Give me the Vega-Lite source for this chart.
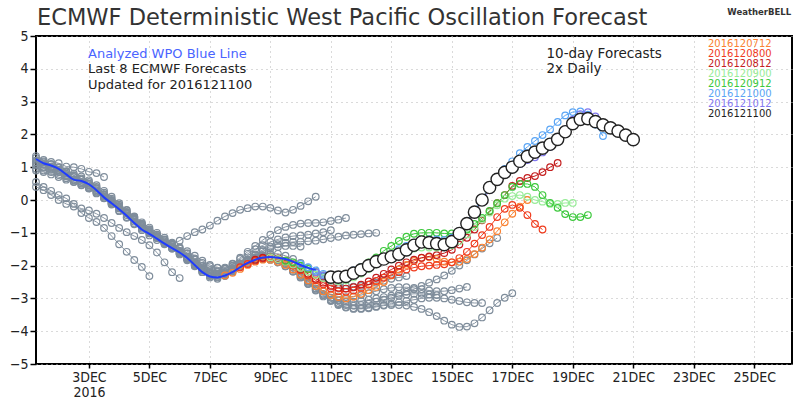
{
"$schema": "https://vega.github.io/schema/vega-lite/v6.json",
"width": 756, "height": 328,
"autosize": {"type": "none"},
"padding": {"left": 36, "top": 36, "right": 8, "bottom": 36},
"background": "white",
"config": {
  "view": {"stroke": "#000000", "strokeWidth": 2},
  "axis": {"domain": false, "grid": true, "gridColor": "#b4b4b4", "gridDash": [1, 4], "gridWidth": 1, "tickColor": "#000000", "tickWidth": 1.5, "labelFont": "DejaVu Sans Condensed", "labelFontSize": 14, "labelColor": "#222222", "labelFlush": false, "labelOverlap": false, "labelBound": false, "title": null}
},
"data": {"values": [
{"s":"x1","d":1.25,"v":1.34},{"s":"x1","d":1.5,"v":1.22},{"s":"x1","d":1.75,"v":1.16},{"s":"x1","d":2,"v":1.12},{"s":"x1","d":2.25,"v":1.02},{"s":"x1","d":2.5,"v":1.0},{"s":"x1","d":2.75,"v":0.95},{"s":"x1","d":3,"v":0.86},{"s":"x1","d":3.25,"v":0.82},{"s":"x1","d":3.5,"v":0.7},
{"s":"x2","d":1.25,"v":0.95},{"s":"x2","d":1.5,"v":0.9},{"s":"x2","d":1.75,"v":0.85},{"s":"x2","d":2,"v":0.76},{"s":"x2","d":2.25,"v":0.66},{"s":"x2","d":2.5,"v":0.56},{"s":"x2","d":2.75,"v":0.46},{"s":"x2","d":3,"v":0.36},{"s":"x2","d":3.25,"v":0.22},{"s":"x2","d":3.5,"v":0.06},{"s":"x2","d":3.75,"v":-0.1},{"s":"x2","d":4,"v":-0.25},{"s":"x2","d":4.25,"v":-0.4},{"s":"x2","d":4.5,"v":-0.52},
{"s":"x3","d":1.25,"v":0.55},{"s":"x3","d":1.5,"v":0.4},{"s":"x3","d":1.75,"v":0.28},{"s":"x3","d":2,"v":0.15},{"s":"x3","d":2.25,"v":0.05},{"s":"x3","d":2.5,"v":-0.12},{"s":"x3","d":2.75,"v":-0.4},{"s":"x3","d":3,"v":-0.55},{"s":"x3","d":3.25,"v":-0.67},{"s":"x3","d":3.5,"v":-0.85},{"s":"x3","d":3.75,"v":-1.1},{"s":"x3","d":4,"v":-1.35},{"s":"x3","d":4.25,"v":-1.58},{"s":"x3","d":4.5,"v":-1.83},{"s":"x3","d":4.75,"v":-2.04},{"s":"x3","d":5,"v":-2.32},
{"s":"x4","d":1.25,"v":0.4},{"s":"x4","d":1.5,"v":0.3},{"s":"x4","d":1.75,"v":0.15},{"s":"x4","d":2,"v":0.0},{"s":"x4","d":2.25,"v":-0.12},{"s":"x4","d":2.5,"v":-0.2},{"s":"x4","d":2.75,"v":-0.26},{"s":"x4","d":3,"v":-0.32},{"s":"x4","d":3.25,"v":-0.42},{"s":"x4","d":3.5,"v":-0.55},{"s":"x4","d":3.75,"v":-0.7},{"s":"x4","d":4,"v":-0.85},{"s":"x4","d":4.25,"v":-0.98},{"s":"x4","d":4.5,"v":-1.1},{"s":"x4","d":4.75,"v":-1.22},{"s":"x4","d":5,"v":-1.38},{"s":"x4","d":5.25,"v":-1.6},{"s":"x4","d":5.5,"v":-1.9},{"s":"x4","d":5.75,"v":-2.2},{"s":"x4","d":6,"v":-2.38},
{"s":"x5","d":1.25,"v":0.9},{"s":"x5","d":1.5,"v":0.85},{"s":"x5","d":1.75,"v":0.78},{"s":"x5","d":2,"v":0.7},{"s":"x5","d":2.25,"v":0.62},{"s":"x5","d":2.5,"v":0.55},{"s":"x5","d":2.75,"v":0.45},{"s":"x5","d":3,"v":0.35},{"s":"x5","d":3.25,"v":0.2},{"s":"x5","d":3.5,"v":0.05},{"s":"x5","d":3.75,"v":-0.12},{"s":"x5","d":4,"v":-0.32},{"s":"x5","d":4.25,"v":-0.52},{"s":"x5","d":4.5,"v":-0.72},{"s":"x5","d":4.75,"v":-0.88},{"s":"x5","d":5,"v":-1.02},{"s":"x5","d":5.25,"v":-1.16},{"s":"x5","d":5.5,"v":-1.3},{"s":"x5","d":5.75,"v":-1.45},{"s":"x5","d":6,"v":-1.6},{"s":"x5","d":6.25,"v":-1.76},{"s":"x5","d":6.5,"v":-1.92},{"s":"x5","d":6.75,"v":-2.06},{"s":"x5","d":7,"v":-2.2},
{"s":"x6","d":1.25,"v":1.2},{"s":"x6","d":1.5,"v":1.1},{"s":"x6","d":1.75,"v":1.0},{"s":"x6","d":2,"v":0.92},{"s":"x6","d":2.25,"v":0.86},{"s":"x6","d":2.5,"v":0.8},{"s":"x6","d":2.75,"v":0.72},{"s":"x6","d":3,"v":0.6},{"s":"x6","d":3.25,"v":0.45},{"s":"x6","d":3.5,"v":0.28},{"s":"x6","d":3.75,"v":0.1},{"s":"x6","d":4,"v":-0.1},{"s":"x6","d":4.25,"v":-0.3},{"s":"x6","d":4.5,"v":-0.5},{"s":"x6","d":4.75,"v":-0.68},{"s":"x6","d":5,"v":-0.84},{"s":"x6","d":5.25,"v":-1.0},{"s":"x6","d":5.5,"v":-1.15},{"s":"x6","d":5.75,"v":-1.3},{"s":"x6","d":6,"v":-1.46},{"s":"x6","d":6.25,"v":-1.62},{"s":"x6","d":6.5,"v":-1.78},{"s":"x6","d":6.75,"v":-1.92},{"s":"x6","d":7,"v":-2.02},{"s":"x6","d":7.25,"v":-2.07},{"s":"x6","d":7.5,"v":-2.06},{"s":"x6","d":7.75,"v":-2.0},{"s":"x6","d":8,"v":-1.94},
{"s":"x7","d":1.25,"v":1.05},{"s":"x7","d":1.5,"v":0.98},{"s":"x7","d":1.75,"v":0.92},{"s":"x7","d":2,"v":0.85},{"s":"x7","d":2.25,"v":0.72},{"s":"x7","d":2.5,"v":0.62},{"s":"x7","d":2.75,"v":0.55},{"s":"x7","d":3,"v":0.45},{"s":"x7","d":3.25,"v":0.3},{"s":"x7","d":3.5,"v":0.12},{"s":"x7","d":3.75,"v":-0.05},{"s":"x7","d":4,"v":-0.22},{"s":"x7","d":4.25,"v":-0.4},{"s":"x7","d":4.5,"v":-0.6},{"s":"x7","d":4.75,"v":-0.8},{"s":"x7","d":5,"v":-0.96},{"s":"x7","d":5.25,"v":-1.1},{"s":"x7","d":5.5,"v":-1.22},{"s":"x7","d":5.75,"v":-1.33},{"s":"x7","d":6,"v":-1.44},{"s":"x7","d":6.25,"v":-1.56},{"s":"x7","d":6.5,"v":-1.7},{"s":"x7","d":6.75,"v":-1.85},{"s":"x7","d":7,"v":-1.98},{"s":"x7","d":7.25,"v":-2.06},{"s":"x7","d":7.5,"v":-2.08},{"s":"x7","d":7.75,"v":-2.02},{"s":"x7","d":8,"v":-1.93},{"s":"x7","d":8.25,"v":-1.84},{"s":"x7","d":8.5,"v":-1.76},{"s":"x7","d":8.75,"v":-1.7},{"s":"x7","d":9,"v":-1.66},
{"s":"x8","d":1.25,"v":1.15},{"s":"x8","d":1.5,"v":1.08},{"s":"x8","d":1.75,"v":1.02},{"s":"x8","d":2,"v":0.9},{"s":"x8","d":2.25,"v":0.8},{"s":"x8","d":2.5,"v":0.7},{"s":"x8","d":2.75,"v":0.62},{"s":"x8","d":3,"v":0.5},{"s":"x8","d":3.25,"v":0.35},{"s":"x8","d":3.5,"v":0.16},{"s":"x8","d":3.75,"v":-0.02},{"s":"x8","d":4,"v":-0.2},{"s":"x8","d":4.25,"v":-0.38},{"s":"x8","d":4.5,"v":-0.56},{"s":"x8","d":4.75,"v":-0.74},{"s":"x8","d":5,"v":-0.9},{"s":"x8","d":5.25,"v":-1.06},{"s":"x8","d":5.5,"v":-1.22},{"s":"x8","d":5.75,"v":-1.38},{"s":"x8","d":6,"v":-1.55},{"s":"x8","d":6.25,"v":-1.72},{"s":"x8","d":6.5,"v":-1.9},{"s":"x8","d":6.75,"v":-2.08},{"s":"x8","d":7,"v":-2.22},{"s":"x8","d":7.25,"v":-2.28},{"s":"x8","d":7.5,"v":-2.24},{"s":"x8","d":7.75,"v":-2.12},{"s":"x8","d":8,"v":-1.97},{"s":"x8","d":8.25,"v":-1.82},{"s":"x8","d":8.5,"v":-1.68},{"s":"x8","d":8.75,"v":-1.56},{"s":"x8","d":9,"v":-1.48},{"s":"x8","d":9.25,"v":-1.43},{"s":"x8","d":9.5,"v":-1.4},{"s":"x8","d":9.75,"v":-1.4},{"s":"x8","d":10,"v":-1.42},
{"s":"x9","d":1.25,"v":1.1},{"s":"x9","d":1.5,"v":1.0},{"s":"x9","d":1.75,"v":0.95},{"s":"x9","d":2,"v":0.86},{"s":"x9","d":2.25,"v":0.75},{"s":"x9","d":2.5,"v":0.62},{"s":"x9","d":2.75,"v":0.5},{"s":"x9","d":3,"v":0.4},{"s":"x9","d":3.25,"v":0.25},{"s":"x9","d":3.5,"v":0.06},{"s":"x9","d":3.75,"v":-0.14},{"s":"x9","d":4,"v":-0.34},{"s":"x9","d":4.25,"v":-0.54},{"s":"x9","d":4.5,"v":-0.74},{"s":"x9","d":4.75,"v":-0.92},{"s":"x9","d":5,"v":-1.08},{"s":"x9","d":5.25,"v":-1.22},{"s":"x9","d":5.5,"v":-1.35},{"s":"x9","d":5.75,"v":-1.36},{"s":"x9","d":6,"v":-1.24},{"s":"x9","d":6.25,"v":-1.1},{"s":"x9","d":6.5,"v":-0.98},{"s":"x9","d":6.75,"v":-0.9},{"s":"x9","d":7,"v":-0.78},{"s":"x9","d":7.25,"v":-0.63},{"s":"x9","d":7.5,"v":-0.5},{"s":"x9","d":7.75,"v":-0.4},{"s":"x9","d":8,"v":-0.3},{"s":"x9","d":8.25,"v":-0.25},{"s":"x9","d":8.5,"v":-0.2},{"s":"x9","d":8.75,"v":-0.2},{"s":"x9","d":9,"v":-0.24},{"s":"x9","d":9.25,"v":-0.32},{"s":"x9","d":9.5,"v":-0.38},{"s":"x9","d":9.75,"v":-0.3},{"s":"x9","d":10,"v":-0.18},{"s":"x9","d":10.25,"v":-0.04},{"s":"x9","d":10.5,"v":0.1},
{"s":"x10","d":1.25,"v":1.28},{"s":"x10","d":1.5,"v":1.18},{"s":"x10","d":1.75,"v":1.1},{"s":"x10","d":2,"v":1.0},{"s":"x10","d":2.25,"v":0.88},{"s":"x10","d":2.5,"v":0.76},{"s":"x10","d":2.75,"v":0.66},{"s":"x10","d":3,"v":0.55},{"s":"x10","d":3.25,"v":0.4},{"s":"x10","d":3.5,"v":0.22},{"s":"x10","d":3.75,"v":0.04},{"s":"x10","d":4,"v":-0.14},{"s":"x10","d":4.25,"v":-0.32},{"s":"x10","d":4.5,"v":-0.52},{"s":"x10","d":4.75,"v":-0.72},{"s":"x10","d":5,"v":-0.9},{"s":"x10","d":5.25,"v":-1.06},{"s":"x10","d":5.5,"v":-1.2},{"s":"x10","d":5.75,"v":-1.34},{"s":"x10","d":6,"v":-1.48},{"s":"x10","d":6.25,"v":-1.64},{"s":"x10","d":6.5,"v":-1.82},{"s":"x10","d":6.75,"v":-2.0},{"s":"x10","d":7,"v":-2.14},{"s":"x10","d":7.25,"v":-2.18},{"s":"x10","d":7.5,"v":-2.1},{"s":"x10","d":7.75,"v":-1.96},{"s":"x10","d":8,"v":-1.8},{"s":"x10","d":8.25,"v":-1.64},{"s":"x10","d":8.5,"v":-1.5},{"s":"x10","d":8.75,"v":-1.38},{"s":"x10","d":9,"v":-1.28},{"s":"x10","d":9.25,"v":-1.2},{"s":"x10","d":9.5,"v":-1.14},{"s":"x10","d":9.75,"v":-1.1},{"s":"x10","d":10,"v":-1.08},{"s":"x10","d":10.25,"v":-1.06},{"s":"x10","d":10.5,"v":-1.02},{"s":"x10","d":10.75,"v":-0.98},{"s":"x10","d":11,"v":-0.92},
{"s":"x11","d":1.5,"v":1.15},{"s":"x11","d":1.75,"v":1.08},{"s":"x11","d":2,"v":0.98},{"s":"x11","d":2.25,"v":0.86},{"s":"x11","d":2.5,"v":0.74},{"s":"x11","d":2.75,"v":0.62},{"s":"x11","d":3,"v":0.5},{"s":"x11","d":3.25,"v":0.36},{"s":"x11","d":3.5,"v":0.18},{"s":"x11","d":3.75,"v":0.0},{"s":"x11","d":4,"v":-0.18},{"s":"x11","d":4.25,"v":-0.36},{"s":"x11","d":4.5,"v":-0.56},{"s":"x11","d":4.75,"v":-0.76},{"s":"x11","d":5,"v":-0.94},{"s":"x11","d":5.25,"v":-1.1},{"s":"x11","d":5.5,"v":-1.26},{"s":"x11","d":5.75,"v":-1.42},{"s":"x11","d":6,"v":-1.58},{"s":"x11","d":6.25,"v":-1.76},{"s":"x11","d":6.5,"v":-1.94},{"s":"x11","d":6.75,"v":-2.1},{"s":"x11","d":7,"v":-2.2},{"s":"x11","d":7.25,"v":-2.2},{"s":"x11","d":7.5,"v":-2.1},{"s":"x11","d":7.75,"v":-1.94},{"s":"x11","d":8,"v":-1.76},{"s":"x11","d":8.25,"v":-1.58},{"s":"x11","d":8.5,"v":-1.4},{"s":"x11","d":8.75,"v":-1.22},{"s":"x11","d":9,"v":-1.06},{"s":"x11","d":9.25,"v":-0.92},{"s":"x11","d":9.5,"v":-0.82},{"s":"x11","d":9.75,"v":-0.76},{"s":"x11","d":10,"v":-0.72},{"s":"x11","d":10.25,"v":-0.7},{"s":"x11","d":10.5,"v":-0.7},{"s":"x11","d":10.75,"v":-0.68},{"s":"x11","d":11,"v":-0.64},{"s":"x11","d":11.25,"v":-0.6},{"s":"x11","d":11.5,"v":-0.55},
{"s":"x12","d":2.5,"v":0.6},{"s":"x12","d":2.75,"v":0.5},{"s":"x12","d":3,"v":0.4},{"s":"x12","d":3.25,"v":0.26},{"s":"x12","d":3.5,"v":0.1},{"s":"x12","d":3.75,"v":-0.08},{"s":"x12","d":4,"v":-0.26},{"s":"x12","d":4.25,"v":-0.46},{"s":"x12","d":4.5,"v":-0.66},{"s":"x12","d":4.75,"v":-0.84},{"s":"x12","d":5,"v":-1.0},{"s":"x12","d":5.25,"v":-1.16},{"s":"x12","d":5.5,"v":-1.32},{"s":"x12","d":5.75,"v":-1.48},{"s":"x12","d":6,"v":-1.64},{"s":"x12","d":6.25,"v":-1.8},{"s":"x12","d":6.5,"v":-1.98},{"s":"x12","d":6.75,"v":-2.16},{"s":"x12","d":7,"v":-2.3},{"s":"x12","d":7.25,"v":-2.34},{"s":"x12","d":7.5,"v":-2.28},{"s":"x12","d":7.75,"v":-2.14},{"s":"x12","d":8,"v":-1.98},{"s":"x12","d":8.25,"v":-1.82},{"s":"x12","d":8.5,"v":-1.66},{"s":"x12","d":8.75,"v":-1.52},{"s":"x12","d":9,"v":-1.42},{"s":"x12","d":9.25,"v":-1.35},{"s":"x12","d":9.5,"v":-1.3},{"s":"x12","d":9.75,"v":-1.28},{"s":"x12","d":10,"v":-1.27},{"s":"x12","d":10.25,"v":-1.26},{"s":"x12","d":10.5,"v":-1.24},{"s":"x12","d":10.75,"v":-1.2},{"s":"x12","d":11,"v":-1.16},{"s":"x12","d":11.25,"v":-1.12},{"s":"x12","d":11.5,"v":-1.08},{"s":"x12","d":11.75,"v":-1.06},{"s":"x12","d":12,"v":-1.04},{"s":"x12","d":12.25,"v":-1.02},{"s":"x12","d":12.5,"v":-1.0},
{"s":"x13","d":3.5,"v":0.15},{"s":"x13","d":3.75,"v":-0.05},{"s":"x13","d":4,"v":-0.22},{"s":"x13","d":4.25,"v":-0.4},{"s":"x13","d":4.5,"v":-0.6},{"s":"x13","d":4.75,"v":-0.8},{"s":"x13","d":5,"v":-0.98},{"s":"x13","d":5.25,"v":-1.14},{"s":"x13","d":5.5,"v":-1.3},{"s":"x13","d":5.75,"v":-1.46},{"s":"x13","d":6,"v":-1.62},{"s":"x13","d":6.25,"v":-1.8},{"s":"x13","d":6.5,"v":-2.0},{"s":"x13","d":6.75,"v":-2.2},{"s":"x13","d":7,"v":-2.36},{"s":"x13","d":7.25,"v":-2.4},{"s":"x13","d":7.5,"v":-2.32},{"s":"x13","d":7.75,"v":-2.18},{"s":"x13","d":8,"v":-2.02},{"s":"x13","d":8.25,"v":-1.88},{"s":"x13","d":8.5,"v":-1.76},{"s":"x13","d":8.75,"v":-1.68},{"s":"x13","d":9,"v":-1.64},{"s":"x13","d":9.25,"v":-1.64},{"s":"x13","d":9.5,"v":-1.7},{"s":"x13","d":9.75,"v":-1.8},{"s":"x13","d":10,"v":-1.92},{"s":"x13","d":10.25,"v":-2.06},{"s":"x13","d":10.5,"v":-2.2},{"s":"x13","d":10.75,"v":-2.34},{"s":"x13","d":11,"v":-2.46},{"s":"x13","d":11.25,"v":-2.56},{"s":"x13","d":11.5,"v":-2.62},{"s":"x13","d":11.75,"v":-2.64},{"s":"x13","d":12,"v":-2.62},{"s":"x13","d":12.25,"v":-2.58},{"s":"x13","d":12.5,"v":-2.52},{"s":"x13","d":12.75,"v":-2.46},{"s":"x13","d":13,"v":-2.4},{"s":"x13","d":13.25,"v":-2.36},{"s":"x13","d":13.5,"v":-2.32},
{"s":"x14","d":4.5,"v":-0.55},{"s":"x14","d":4.75,"v":-0.75},{"s":"x14","d":5,"v":-0.95},{"s":"x14","d":5.25,"v":-1.12},{"s":"x14","d":5.5,"v":-1.3},{"s":"x14","d":5.75,"v":-1.48},{"s":"x14","d":6,"v":-1.66},{"s":"x14","d":6.25,"v":-1.84},{"s":"x14","d":6.5,"v":-2.02},{"s":"x14","d":6.75,"v":-2.2},{"s":"x14","d":7,"v":-2.32},{"s":"x14","d":7.25,"v":-2.36},{"s":"x14","d":7.5,"v":-2.3},{"s":"x14","d":7.75,"v":-2.18},{"s":"x14","d":8,"v":-2.04},{"s":"x14","d":8.25,"v":-1.92},{"s":"x14","d":8.5,"v":-1.84},{"s":"x14","d":8.75,"v":-1.8},{"s":"x14","d":9,"v":-1.82},{"s":"x14","d":9.25,"v":-1.9},{"s":"x14","d":9.5,"v":-2.02},{"s":"x14","d":9.75,"v":-2.18},{"s":"x14","d":10,"v":-2.36},{"s":"x14","d":10.25,"v":-2.55},{"s":"x14","d":10.5,"v":-2.74},{"s":"x14","d":10.75,"v":-2.9},{"s":"x14","d":11,"v":-3.04},{"s":"x14","d":11.25,"v":-3.14},{"s":"x14","d":11.5,"v":-3.2},{"s":"x14","d":11.75,"v":-3.22},{"s":"x14","d":12,"v":-3.2},{"s":"x14","d":12.25,"v":-3.16},{"s":"x14","d":12.5,"v":-3.1},{"s":"x14","d":12.75,"v":-3.04},{"s":"x14","d":13,"v":-2.98},{"s":"x14","d":13.25,"v":-2.92},{"s":"x14","d":13.5,"v":-2.88},{"s":"x14","d":13.75,"v":-2.86},{"s":"x14","d":14,"v":-2.86},{"s":"x14","d":14.25,"v":-2.88},{"s":"x14","d":14.5,"v":-2.9},
{"s":"x15","d":5.5,"v":-1.3},{"s":"x15","d":5.75,"v":-1.45},{"s":"x15","d":6,"v":-1.62},{"s":"x15","d":6.25,"v":-1.8},{"s":"x15","d":6.5,"v":-1.98},{"s":"x15","d":6.75,"v":-2.14},{"s":"x15","d":7,"v":-2.26},{"s":"x15","d":7.25,"v":-2.3},{"s":"x15","d":7.5,"v":-2.24},{"s":"x15","d":7.75,"v":-2.12},{"s":"x15","d":8,"v":-1.98},{"s":"x15","d":8.25,"v":-1.86},{"s":"x15","d":8.5,"v":-1.78},{"s":"x15","d":8.75,"v":-1.74},{"s":"x15","d":9,"v":-1.76},{"s":"x15","d":9.25,"v":-1.84},{"s":"x15","d":9.5,"v":-1.96},{"s":"x15","d":9.75,"v":-2.12},{"s":"x15","d":10,"v":-2.3},{"s":"x15","d":10.25,"v":-2.48},{"s":"x15","d":10.5,"v":-2.64},{"s":"x15","d":10.75,"v":-2.78},{"s":"x15","d":11,"v":-2.88},{"s":"x15","d":11.25,"v":-2.94},{"s":"x15","d":11.5,"v":-2.96},{"s":"x15","d":11.75,"v":-2.94},{"s":"x15","d":12,"v":-2.9},{"s":"x15","d":12.25,"v":-2.84},{"s":"x15","d":12.5,"v":-2.78},{"s":"x15","d":12.75,"v":-2.72},{"s":"x15","d":13,"v":-2.68},{"s":"x15","d":13.25,"v":-2.66},{"s":"x15","d":13.5,"v":-2.66},{"s":"x15","d":13.75,"v":-2.68},{"s":"x15","d":14,"v":-2.72},{"s":"x15","d":14.25,"v":-2.76},{"s":"x15","d":14.5,"v":-2.78},{"s":"x15","d":14.75,"v":-2.78},{"s":"x15","d":15,"v":-2.75},{"s":"x15","d":15.25,"v":-2.7},{"s":"x15","d":15.5,"v":-2.65},
{"s":"x16","d":6,"v":-1.55},{"s":"x16","d":6.25,"v":-1.75},{"s":"x16","d":6.5,"v":-1.95},{"s":"x16","d":6.75,"v":-2.12},{"s":"x16","d":7,"v":-2.25},{"s":"x16","d":7.25,"v":-2.3},{"s":"x16","d":7.5,"v":-2.26},{"s":"x16","d":7.75,"v":-2.16},{"s":"x16","d":8,"v":-2.02},{"s":"x16","d":8.25,"v":-1.88},{"s":"x16","d":8.5,"v":-1.78},{"s":"x16","d":8.75,"v":-1.72},{"s":"x16","d":9,"v":-1.72},{"s":"x16","d":9.25,"v":-1.78},{"s":"x16","d":9.5,"v":-1.9},{"s":"x16","d":9.75,"v":-2.06},{"s":"x16","d":10,"v":-2.26},{"s":"x16","d":10.25,"v":-2.48},{"s":"x16","d":10.5,"v":-2.7},{"s":"x16","d":10.75,"v":-2.9},{"s":"x16","d":11,"v":-3.06},{"s":"x16","d":11.25,"v":-3.18},{"s":"x16","d":11.5,"v":-3.26},{"s":"x16","d":11.75,"v":-3.3},{"s":"x16","d":12,"v":-3.3},{"s":"x16","d":12.25,"v":-3.28},{"s":"x16","d":12.5,"v":-3.24},{"s":"x16","d":12.75,"v":-3.2},{"s":"x16","d":13,"v":-3.16},{"s":"x16","d":13.25,"v":-3.12},{"s":"x16","d":13.5,"v":-3.08},{"s":"x16","d":13.75,"v":-3.04},{"s":"x16","d":14,"v":-3.0},{"s":"x16","d":14.25,"v":-2.98},{"s":"x16","d":14.5,"v":-2.98},{"s":"x16","d":14.75,"v":-3.0},{"s":"x16","d":15,"v":-3.04},{"s":"x16","d":15.25,"v":-3.08},{"s":"x16","d":15.5,"v":-3.12},{"s":"x16","d":15.75,"v":-3.14},{"s":"x16","d":16,"v":-3.14},
{"s":"x17","d":6.5,"v":-1.95},{"s":"x17","d":6.75,"v":-2.1},{"s":"x17","d":7,"v":-2.22},{"s":"x17","d":7.25,"v":-2.26},{"s":"x17","d":7.5,"v":-2.2},{"s":"x17","d":7.75,"v":-2.08},{"s":"x17","d":8,"v":-1.94},{"s":"x17","d":8.25,"v":-1.82},{"s":"x17","d":8.5,"v":-1.74},{"s":"x17","d":8.75,"v":-1.7},{"s":"x17","d":9,"v":-1.72},{"s":"x17","d":9.25,"v":-1.8},{"s":"x17","d":9.5,"v":-1.94},{"s":"x17","d":9.75,"v":-2.12},{"s":"x17","d":10,"v":-2.32},{"s":"x17","d":10.25,"v":-2.52},{"s":"x17","d":10.5,"v":-2.7},{"s":"x17","d":10.75,"v":-2.86},{"s":"x17","d":11,"v":-2.98},{"s":"x17","d":11.25,"v":-3.06},{"s":"x17","d":11.5,"v":-3.1},{"s":"x17","d":11.75,"v":-3.1},{"s":"x17","d":12,"v":-3.08},{"s":"x17","d":12.25,"v":-3.04},{"s":"x17","d":12.5,"v":-3.0},{"s":"x17","d":12.75,"v":-2.96},{"s":"x17","d":13,"v":-2.92},{"s":"x17","d":13.25,"v":-2.86},{"s":"x17","d":13.5,"v":-2.8},{"s":"x17","d":13.75,"v":-2.72},{"s":"x17","d":14,"v":-2.62},{"s":"x17","d":14.25,"v":-2.52},{"s":"x17","d":14.5,"v":-2.42},{"s":"x17","d":14.75,"v":-2.3},{"s":"x17","d":15,"v":-2.16},{"s":"x17","d":15.25,"v":-2.0},{"s":"x17","d":15.5,"v":-1.84},{"s":"x17","d":15.75,"v":-1.66},{"s":"x17","d":16,"v":-1.48},{"s":"x17","d":16.25,"v":-1.32},{"s":"x17","d":16.5,"v":-1.16},
{"s":"x18","d":7,"v":-2.3},{"s":"x18","d":7.25,"v":-2.28},{"s":"x18","d":7.5,"v":-2.2},{"s":"x18","d":7.75,"v":-2.08},{"s":"x18","d":8,"v":-1.96},{"s":"x18","d":8.25,"v":-1.86},{"s":"x18","d":8.5,"v":-1.8},{"s":"x18","d":8.75,"v":-1.78},{"s":"x18","d":9,"v":-1.82},{"s":"x18","d":9.25,"v":-1.9},{"s":"x18","d":9.5,"v":-2.02},{"s":"x18","d":9.75,"v":-2.18},{"s":"x18","d":10,"v":-2.36},{"s":"x18","d":10.25,"v":-2.56},{"s":"x18","d":10.5,"v":-2.76},{"s":"x18","d":10.75,"v":-2.94},{"s":"x18","d":11,"v":-3.08},{"s":"x18","d":11.25,"v":-3.2},{"s":"x18","d":11.5,"v":-3.28},{"s":"x18","d":11.75,"v":-3.32},{"s":"x18","d":12,"v":-3.32},{"s":"x18","d":12.25,"v":-3.3},{"s":"x18","d":12.5,"v":-3.26},{"s":"x18","d":12.75,"v":-3.22},{"s":"x18","d":13,"v":-3.2},{"s":"x18","d":13.25,"v":-3.2},{"s":"x18","d":13.5,"v":-3.22},{"s":"x18","d":13.75,"v":-3.26},{"s":"x18","d":14,"v":-3.32},{"s":"x18","d":14.25,"v":-3.42},{"s":"x18","d":14.5,"v":-3.54},{"s":"x18","d":14.75,"v":-3.68},{"s":"x18","d":15,"v":-3.8},{"s":"x18","d":15.25,"v":-3.87},{"s":"x18","d":15.5,"v":-3.86},{"s":"x18","d":15.75,"v":-3.76},{"s":"x18","d":16,"v":-3.58},{"s":"x18","d":16.25,"v":-3.36},{"s":"x18","d":16.5,"v":-3.14},{"s":"x18","d":16.75,"v":-2.98},{"s":"x18","d":17,"v":-2.84},
{"s":"o","d":7.5,"v":-2.3},{"s":"o","d":7.75,"v":-2.22},{"s":"o","d":8,"v":-2.1},{"s":"o","d":8.25,"v":-1.98},{"s":"o","d":8.5,"v":-1.88},{"s":"o","d":8.75,"v":-1.82},{"s":"o","d":9,"v":-1.82},{"s":"o","d":9.25,"v":-1.88},{"s":"o","d":9.5,"v":-1.98},{"s":"o","d":9.75,"v":-2.12},{"s":"o","d":10,"v":-2.28},{"s":"o","d":10.25,"v":-2.45},{"s":"o","d":10.5,"v":-2.62},{"s":"o","d":10.75,"v":-2.78},{"s":"o","d":11,"v":-2.9},{"s":"o","d":11.25,"v":-2.96},{"s":"o","d":11.5,"v":-3.0},{"s":"o","d":11.75,"v":-2.95},{"s":"o","d":12,"v":-2.86},{"s":"o","d":12.25,"v":-2.75},{"s":"o","d":12.5,"v":-2.65},{"s":"o","d":12.75,"v":-2.5},{"s":"o","d":13,"v":-2.3},{"s":"o","d":13.25,"v":-2.12},{"s":"o","d":13.5,"v":-1.98},{"s":"o","d":13.75,"v":-1.86},{"s":"o","d":14,"v":-1.77},{"s":"o","d":14.25,"v":-1.74},{"s":"o","d":14.5,"v":-1.8},{"s":"o","d":14.75,"v":-1.88},{"s":"o","d":15,"v":-1.9},{"s":"o","d":15.25,"v":-1.88},{"s":"o","d":15.5,"v":-1.8},{"s":"o","d":15.75,"v":-1.65},{"s":"o","d":16,"v":-1.45},{"s":"o","d":16.25,"v":-1.2},{"s":"o","d":16.5,"v":-0.95},{"s":"o","d":16.75,"v":-0.68},{"s":"o","d":17,"v":-0.42},{"s":"o","d":17.25,"v":-0.2},{"s":"o","d":17.5,"v":0.0},
{"s":"r","d":8,"v":-2.05},{"s":"r","d":8.25,"v":-1.95},{"s":"r","d":8.5,"v":-1.85},{"s":"r","d":8.75,"v":-1.78},{"s":"r","d":9,"v":-1.76},{"s":"r","d":9.25,"v":-1.8},{"s":"r","d":9.5,"v":-1.88},{"s":"r","d":9.75,"v":-2.0},{"s":"r","d":10,"v":-2.14},{"s":"r","d":10.25,"v":-2.3},{"s":"r","d":10.5,"v":-2.45},{"s":"r","d":10.75,"v":-2.58},{"s":"r","d":11,"v":-2.7},{"s":"r","d":11.25,"v":-2.78},{"s":"r","d":11.5,"v":-2.8},{"s":"r","d":11.75,"v":-2.76},{"s":"r","d":12,"v":-2.68},{"s":"r","d":12.25,"v":-2.58},{"s":"r","d":12.5,"v":-2.47},{"s":"r","d":12.75,"v":-2.37},{"s":"r","d":13,"v":-2.28},{"s":"r","d":13.25,"v":-2.2},{"s":"r","d":13.5,"v":-2.12},{"s":"r","d":13.75,"v":-2.06},{"s":"r","d":14,"v":-2.02},{"s":"r","d":14.25,"v":-2.0},{"s":"r","d":14.5,"v":-1.98},{"s":"r","d":14.75,"v":-1.96},{"s":"r","d":15,"v":-1.9},{"s":"r","d":15.25,"v":-1.77},{"s":"r","d":15.5,"v":-1.58},{"s":"r","d":15.75,"v":-1.33},{"s":"r","d":16,"v":-1.07},{"s":"r","d":16.25,"v":-0.82},{"s":"r","d":16.5,"v":-0.52},{"s":"r","d":16.75,"v":-0.27},{"s":"r","d":17,"v":-0.15},{"s":"r","d":17.25,"v":-0.24},{"s":"r","d":17.5,"v":-0.46},{"s":"r","d":17.75,"v":-0.73},{"s":"r","d":18,"v":-0.9},
{"s":"dr","d":8.5,"v":-1.82},{"s":"dr","d":8.75,"v":-1.76},{"s":"dr","d":9,"v":-1.75},{"s":"dr","d":9.25,"v":-1.78},{"s":"dr","d":9.5,"v":-1.85},{"s":"dr","d":9.75,"v":-1.96},{"s":"dr","d":10,"v":-2.1},{"s":"dr","d":10.25,"v":-2.25},{"s":"dr","d":10.5,"v":-2.4},{"s":"dr","d":10.75,"v":-2.52},{"s":"dr","d":11,"v":-2.62},{"s":"dr","d":11.25,"v":-2.68},{"s":"dr","d":11.5,"v":-2.7},{"s":"dr","d":11.75,"v":-2.66},{"s":"dr","d":12,"v":-2.58},{"s":"dr","d":12.25,"v":-2.48},{"s":"dr","d":12.5,"v":-2.37},{"s":"dr","d":12.75,"v":-2.25},{"s":"dr","d":13,"v":-2.12},{"s":"dr","d":13.25,"v":-2.0},{"s":"dr","d":13.5,"v":-1.9},{"s":"dr","d":13.75,"v":-1.82},{"s":"dr","d":14,"v":-1.76},{"s":"dr","d":14.25,"v":-1.72},{"s":"dr","d":14.5,"v":-1.68},{"s":"dr","d":14.75,"v":-1.62},{"s":"dr","d":15,"v":-1.52},{"s":"dr","d":15.25,"v":-1.36},{"s":"dr","d":15.5,"v":-1.15},{"s":"dr","d":15.75,"v":-0.9},{"s":"dr","d":16,"v":-0.62},{"s":"dr","d":16.25,"v":-0.35},{"s":"dr","d":16.5,"v":-0.1},{"s":"dr","d":16.75,"v":0.15},{"s":"dr","d":17,"v":0.43},{"s":"dr","d":17.25,"v":0.58},{"s":"dr","d":17.5,"v":0.67},{"s":"dr","d":17.75,"v":0.73},{"s":"dr","d":18,"v":0.85},{"s":"dr","d":18.25,"v":1.0},{"s":"dr","d":18.5,"v":1.13},
{"s":"lg","d":9,"v":-1.75},{"s":"lg","d":9.25,"v":-1.8},{"s":"lg","d":9.5,"v":-1.88},{"s":"lg","d":9.75,"v":-1.97},{"s":"lg","d":10,"v":-2.07},{"s":"lg","d":10.25,"v":-2.18},{"s":"lg","d":10.5,"v":-2.28},{"s":"lg","d":10.75,"v":-2.38},{"s":"lg","d":11,"v":-2.45},{"s":"lg","d":11.25,"v":-2.48},{"s":"lg","d":11.5,"v":-2.45},{"s":"lg","d":11.75,"v":-2.36},{"s":"lg","d":12,"v":-2.24},{"s":"lg","d":12.25,"v":-2.1},{"s":"lg","d":12.5,"v":-1.96},{"s":"lg","d":12.75,"v":-1.83},{"s":"lg","d":13,"v":-1.72},{"s":"lg","d":13.25,"v":-1.62},{"s":"lg","d":13.5,"v":-1.54},{"s":"lg","d":13.75,"v":-1.48},{"s":"lg","d":14,"v":-1.45},{"s":"lg","d":14.25,"v":-1.45},{"s":"lg","d":14.5,"v":-1.45},{"s":"lg","d":14.75,"v":-1.43},{"s":"lg","d":15,"v":-1.38},{"s":"lg","d":15.25,"v":-1.25},{"s":"lg","d":15.5,"v":-1.05},{"s":"lg","d":15.75,"v":-0.82},{"s":"lg","d":16,"v":-0.6},{"s":"lg","d":16.25,"v":-0.38},{"s":"lg","d":16.5,"v":-0.16},{"s":"lg","d":16.75,"v":0.04},{"s":"lg","d":17,"v":0.12},{"s":"lg","d":17.25,"v":0.15},{"s":"lg","d":17.5,"v":0.1},{"s":"lg","d":17.75,"v":0.0},{"s":"lg","d":18,"v":-0.05},{"s":"lg","d":18.25,"v":-0.12},{"s":"lg","d":18.5,"v":-0.12},{"s":"lg","d":18.75,"v":-0.09},{"s":"lg","d":19,"v":-0.09},
{"s":"gr","d":9.5,"v":-1.85},{"s":"gr","d":9.75,"v":-1.9},{"s":"gr","d":10,"v":-2.0},{"s":"gr","d":10.25,"v":-2.1},{"s":"gr","d":10.5,"v":-2.2},{"s":"gr","d":10.75,"v":-2.3},{"s":"gr","d":11,"v":-2.35},{"s":"gr","d":11.25,"v":-2.33},{"s":"gr","d":11.5,"v":-2.28},{"s":"gr","d":11.75,"v":-2.18},{"s":"gr","d":12,"v":-2.05},{"s":"gr","d":12.25,"v":-1.9},{"s":"gr","d":12.5,"v":-1.75},{"s":"gr","d":12.75,"v":-1.55},{"s":"gr","d":13,"v":-1.4},{"s":"gr","d":13.25,"v":-1.25},{"s":"gr","d":13.5,"v":-1.12},{"s":"gr","d":13.75,"v":-1.03},{"s":"gr","d":14,"v":-1.0},{"s":"gr","d":14.25,"v":-1.0},{"s":"gr","d":14.5,"v":-1.0},{"s":"gr","d":14.75,"v":-1.02},{"s":"gr","d":15,"v":-1.02},{"s":"gr","d":15.25,"v":-0.98},{"s":"gr","d":15.5,"v":-0.9},{"s":"gr","d":15.75,"v":-0.73},{"s":"gr","d":16,"v":-0.55},{"s":"gr","d":16.25,"v":-0.33},{"s":"gr","d":16.5,"v":-0.1},{"s":"gr","d":16.75,"v":0.15},{"s":"gr","d":17,"v":0.4},{"s":"gr","d":17.25,"v":0.49},{"s":"gr","d":17.5,"v":0.49},{"s":"gr","d":17.75,"v":0.4},{"s":"gr","d":18,"v":0.15},{"s":"gr","d":18.25,"v":-0.09},{"s":"gr","d":18.5,"v":-0.24},{"s":"gr","d":18.75,"v":-0.43},{"s":"gr","d":19,"v":-0.52},{"s":"gr","d":19.25,"v":-0.52},{"s":"gr","d":19.5,"v":-0.46},
{"s":"lb","d":10,"v":-1.95},{"s":"lb","d":10.25,"v":-2.05},{"s":"lb","d":10.5,"v":-2.15},{"s":"lb","d":10.75,"v":-2.25},{"s":"lb","d":11,"v":-2.3},{"s":"lb","d":11.25,"v":-2.3},{"s":"lb","d":11.5,"v":-2.25},{"s":"lb","d":11.75,"v":-2.15},{"s":"lb","d":12,"v":-2.05},{"s":"lb","d":12.25,"v":-1.95},{"s":"lb","d":12.5,"v":-1.84},{"s":"lb","d":12.75,"v":-1.74},{"s":"lb","d":13,"v":-1.64},{"s":"lb","d":13.25,"v":-1.5},{"s":"lb","d":13.5,"v":-1.4},{"s":"lb","d":13.75,"v":-1.3},{"s":"lb","d":14,"v":-1.22},{"s":"lb","d":14.25,"v":-1.2},{"s":"lb","d":14.5,"v":-1.2},{"s":"lb","d":14.75,"v":-1.22},{"s":"lb","d":15,"v":-1.15},{"s":"lb","d":15.25,"v":-0.95},{"s":"lb","d":15.5,"v":-0.65},{"s":"lb","d":15.75,"v":-0.3},{"s":"lb","d":16,"v":0.05},{"s":"lb","d":16.25,"v":0.4},{"s":"lb","d":16.5,"v":0.7},{"s":"lb","d":16.75,"v":0.95},{"s":"lb","d":17,"v":1.18},{"s":"lb","d":17.25,"v":1.43},{"s":"lb","d":17.5,"v":1.62},{"s":"lb","d":17.75,"v":1.8},{"s":"lb","d":18,"v":1.98},{"s":"lb","d":18.25,"v":2.15},{"s":"lb","d":18.5,"v":2.38},{"s":"lb","d":18.75,"v":2.58},{"s":"lb","d":19,"v":2.68},{"s":"lb","d":19.25,"v":2.7},{"s":"lb","d":19.5,"v":2.6},{"s":"lb","d":19.75,"v":2.3},{"s":"lb","d":20,"v":1.95},
{"s":"p","d":10.5,"v":-2.2},{"s":"p","d":10.75,"v":-2.3},{"s":"p","d":11,"v":-2.35},{"s":"p","d":11.25,"v":-2.35},{"s":"p","d":11.5,"v":-2.3},{"s":"p","d":11.75,"v":-2.2},{"s":"p","d":12,"v":-2.1},{"s":"p","d":12.25,"v":-2.0},{"s":"p","d":12.5,"v":-1.9},{"s":"p","d":12.75,"v":-1.8},{"s":"p","d":13,"v":-1.72},{"s":"p","d":13.25,"v":-1.62},{"s":"p","d":13.5,"v":-1.5},{"s":"p","d":13.75,"v":-1.38},{"s":"p","d":14,"v":-1.3},{"s":"p","d":14.25,"v":-1.32},{"s":"p","d":14.5,"v":-1.35},{"s":"p","d":14.75,"v":-1.35},{"s":"p","d":15,"v":-1.25},{"s":"p","d":15.25,"v":-1.05},{"s":"p","d":15.5,"v":-0.75},{"s":"p","d":15.75,"v":-0.4},{"s":"p","d":16,"v":-0.05},{"s":"p","d":16.25,"v":0.3},{"s":"p","d":16.5,"v":0.55},{"s":"p","d":16.75,"v":0.78},{"s":"p","d":17,"v":0.95},{"s":"p","d":17.25,"v":1.1},{"s":"p","d":17.5,"v":1.22},{"s":"p","d":17.75,"v":1.3},{"s":"p","d":18,"v":1.45},{"s":"p","d":18.25,"v":1.62},{"s":"p","d":18.5,"v":1.85},{"s":"p","d":18.75,"v":2.15},{"s":"p","d":19,"v":2.45},{"s":"p","d":19.25,"v":2.62},{"s":"p","d":19.5,"v":2.68},{"s":"p","d":19.75,"v":2.55},{"s":"p","d":20,"v":2.35},{"s":"p","d":20.25,"v":2.2},{"s":"p","d":20.5,"v":2.1},
{"s":"an","d":1.25,"v":1.25},{"s":"an","d":1.5,"v":1.12},{"s":"an","d":1.75,"v":1.05},{"s":"an","d":2,"v":0.95},{"s":"an","d":2.25,"v":0.78},{"s":"an","d":2.5,"v":0.62},{"s":"an","d":2.75,"v":0.58},{"s":"an","d":3,"v":0.48},{"s":"an","d":3.25,"v":0.3},{"s":"an","d":3.5,"v":0.08},{"s":"an","d":3.75,"v":-0.1},{"s":"an","d":4,"v":-0.28},{"s":"an","d":4.25,"v":-0.48},{"s":"an","d":4.5,"v":-0.7},{"s":"an","d":4.75,"v":-0.9},{"s":"an","d":5,"v":-1.03},{"s":"an","d":5.25,"v":-1.18},{"s":"an","d":5.5,"v":-1.33},{"s":"an","d":5.75,"v":-1.47},{"s":"an","d":6,"v":-1.6},{"s":"an","d":6.25,"v":-1.77},{"s":"an","d":6.5,"v":-1.98},{"s":"an","d":6.75,"v":-2.2},{"s":"an","d":7,"v":-2.33},{"s":"an","d":7.25,"v":-2.36},{"s":"an","d":7.5,"v":-2.3},{"s":"an","d":7.75,"v":-2.2},{"s":"an","d":8,"v":-2.05},{"s":"an","d":8.25,"v":-1.92},{"s":"an","d":8.5,"v":-1.82},{"s":"an","d":8.75,"v":-1.75},{"s":"an","d":9,"v":-1.74},{"s":"an","d":9.25,"v":-1.76},{"s":"an","d":9.5,"v":-1.8},{"s":"an","d":9.75,"v":-1.88},{"s":"an","d":10,"v":-1.98},{"s":"an","d":10.25,"v":-2.07},{"s":"an","d":10.5,"v":-2.13},
{"s":"k","d":11,"v":-2.35},{"s":"k","d":11.25,"v":-2.35},{"s":"k","d":11.5,"v":-2.33},{"s":"k","d":11.75,"v":-2.23},{"s":"k","d":12,"v":-2.13},{"s":"k","d":12.25,"v":-2.0},{"s":"k","d":12.5,"v":-1.88},{"s":"k","d":12.75,"v":-1.8},{"s":"k","d":13,"v":-1.73},{"s":"k","d":13.25,"v":-1.65},{"s":"k","d":13.5,"v":-1.52},{"s":"k","d":13.75,"v":-1.38},{"s":"k","d":14,"v":-1.28},{"s":"k","d":14.25,"v":-1.3},{"s":"k","d":14.5,"v":-1.33},{"s":"k","d":14.75,"v":-1.36},{"s":"k","d":15,"v":-1.27},{"s":"k","d":15.25,"v":-1.02},{"s":"k","d":15.5,"v":-0.72},{"s":"k","d":15.75,"v":-0.37},{"s":"k","d":16,"v":0.0},{"s":"k","d":16.25,"v":0.38},{"s":"k","d":16.5,"v":0.63},{"s":"k","d":16.75,"v":0.84},{"s":"k","d":17,"v":1.0},{"s":"k","d":17.25,"v":1.18},{"s":"k","d":17.5,"v":1.33},{"s":"k","d":17.75,"v":1.46},{"s":"k","d":18,"v":1.58},{"s":"k","d":18.25,"v":1.7},{"s":"k","d":18.5,"v":1.85},{"s":"k","d":18.75,"v":2.08},{"s":"k","d":19,"v":2.33},{"s":"k","d":19.25,"v":2.46},{"s":"k","d":19.5,"v":2.48},{"s":"k","d":19.75,"v":2.39},{"s":"k","d":20,"v":2.29},{"s":"k","d":20.25,"v":2.2},{"s":"k","d":20.5,"v":2.1},{"s":"k","d":20.75,"v":1.98},{"s":"k","d":21,"v":1.84}
]},
"encoding": {
  "x": {"field": "d", "type": "quantitative", "scale": {"domain": [1.25, 26.25], "nice": false, "zero": false},
        "axis": {"values": [3,5,7,9,11,13,15,17,19,21,23,25], "tickSize": 4, "labelPadding": 2, "labelLineHeight": 15, "labelBaseline": "top",
                 "labelExpr": "datum.value == 3 ? ['3DEC','2016'] : datum.value + 'DEC'"}},
  "y": {"field": "v", "type": "quantitative", "scale": {"domain": [-5, 5], "nice": false, "zero": false},
        "axis": {"values": [-5,-4,-3,-2,-1,0,1,2,3,4,5], "tickSize": 6, "labelPadding": 2}}
},
"layer": [
  {"transform": [{"filter": "indexof(datum.s, 'x') == 0"}],
   "mark": {"type": "line", "color": "#8a97a5", "strokeWidth": 1},
   "encoding": {"detail": {"field": "s"}, "order": {"field": "d"}}},
  {"transform": [{"filter": "indexof(datum.s, 'x') == 0"}],
   "mark": {"type": "point", "shape": "circle", "filled": false, "color": "#7f8d9b", "size": 44, "strokeWidth": 1.2, "opacity": 1}},
  {"transform": [{"filter": "indexof(['o','r','dr','lg','gr','lb','p'], datum.s) >= 0"}],
   "mark": {"type": "line", "strokeWidth": 1},
   "encoding": {"order": {"field": "d"},
     "color": {"field": "s", "type": "nominal",
       "scale": {"domain": ["o","r","dr","lg","gr","lb","p","k"], "range": ["#fa8232","#f03c1e","#c41e1e","#98ec98","#3cc83c","#5aa5f5","#8278f0","#1e1e1e"]},
       "legend": {"orient": "none", "legendX": 662, "legendY": 3, "title": null, "symbolSize": 0, "symbolOpacity": 0, "symbolStrokeWidth": 0, "labelOffset": 0, "padding": 0, "rowPadding": 0,
                  "labelFont": "DejaVu Sans", "labelFontSize": 10, "labelColor": {"expr": "scale('color', datum.value)"},
                  "labelExpr": "['2016120712','2016120800','2016120812','2016120900','2016120912','2016121000','2016121012','2016121100'][indexof(['o','r','dr','lg','gr','lb','p','k'], datum.value)]"}}}},
  {"transform": [{"filter": "indexof(['o','r','dr','lg','gr','lb','p'], datum.s) >= 0"}],
   "mark": {"type": "point", "shape": "circle", "filled": false, "size": 44, "strokeWidth": 1.2, "opacity": 1},
   "encoding": {"color": {"field": "s", "type": "nominal"}}},
  {"transform": [{"filter": "datum.s == 'an'"}],
   "mark": {"type": "line", "color": "#1f3cff", "strokeWidth": 2, "interpolate": "monotone"},
   "encoding": {"order": {"field": "d"}}},
  {"data": {"values": [{}]},
   "mark": {"type": "rule", "color": "#000000", "strokeWidth": 3},
   "encoding": {"x": {"datum": 1.25}, "x2": {"datum": 26.25}, "y": {"datum": 0}}},
  {"transform": [{"filter": "datum.s == 'k'"}],
   "mark": {"type": "line", "color": "#222222", "strokeWidth": 1},
   "encoding": {"order": {"field": "d"}}},
  {"transform": [{"filter": "datum.s == 'k'"}],
   "mark": {"type": "point", "shape": "circle", "filled": true, "fill": "#ffffff", "fillOpacity": 1, "stroke": "#222222", "strokeWidth": 1.4, "size": 150, "opacity": 1}},
  {"data": {"values": [{"t": "ECMWF Deterministic West Pacific Oscillation Forecast", "d": 1.282, "v": 5.335}]},
   "mark": {"type": "text", "align": "left", "baseline": "alphabetic", "font": "DejaVu Sans", "fontSize": 22.5, "fill": "#333333"},
   "encoding": {"text": {"field": "t", "type": "nominal"}}},
  {"data": {"values": [{"t": "Analyzed WPO Blue Line", "d": 2.97, "v": 4.44}]},
   "mark": {"type": "text", "align": "left", "baseline": "middle", "font": "DejaVu Sans", "fontSize": 13, "fill": "#4a64ff"},
   "encoding": {"text": {"field": "t", "type": "nominal"}}},
  {"data": {"values": [{"t": "Last 8 ECMWF Forecasts", "d": 2.97, "v": 3.98}, {"t": "Updated for 2016121100", "d": 2.97, "v": 3.52}]},
   "mark": {"type": "text", "align": "left", "baseline": "middle", "font": "DejaVu Sans", "fontSize": 13, "fill": "#222222"},
   "encoding": {"text": {"field": "t", "type": "nominal"}}},
  {"data": {"values": [{"t": "10-day Forecasts", "d": 18.13, "v": 4.44}, {"t": "2x Daily", "d": 18.13, "v": 3.98}]},
   "mark": {"type": "text", "align": "left", "baseline": "middle", "font": "DejaVu Sans", "fontSize": 13.5, "fill": "#222222"},
   "encoding": {"text": {"field": "t", "type": "nominal"}}},
  {"data": {"values": [{"t": "WeatherBELL", "d": 26.22, "v": 5.73}]},
   "mark": {"type": "text", "align": "right", "baseline": "middle", "font": "DejaVu Sans", "fontSize": 8.5, "fontWeight": "bold", "fill": "#333333"},
   "encoding": {"text": {"field": "t", "type": "nominal"}}}
]
}
